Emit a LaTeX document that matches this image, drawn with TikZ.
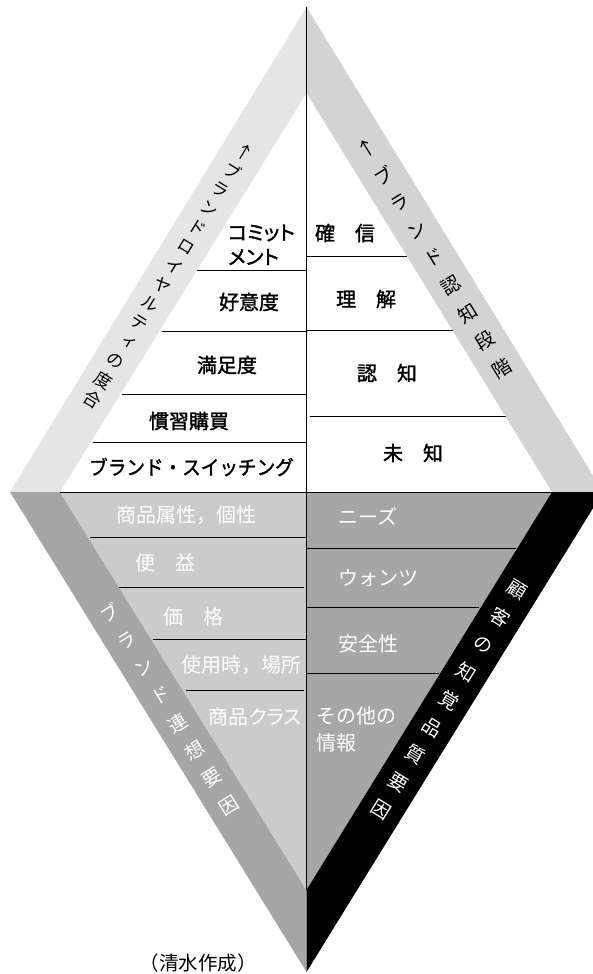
\documentclass[tikz,border=0pt]{standalone}
\usepackage{fontspec}
\newfontfamily\jp{Noto Sans CJK JP}
\newfontfamily\jpm[FakeBold=1.6]{Noto Sans CJK JP}
\newfontfamily\jpmp[FakeBold=1.6,RawFeature=+palt]{Noto Sans CJK JP}
\newfontfamily\jpp[RawFeature=+palt]{Noto Sans CJK JP}
\newfontfamily\jpv[RawFeature=+vert]{Noto Sans CJK JP}
\definecolor{bandUL}{HTML}{E5E5E5}
\definecolor{bandUR}{HTML}{D3D3D3}
\definecolor{bandLL}{HTML}{A6A6A6}
\definecolor{fillLL}{HTML}{CBCBCB}
\definecolor{fillLR}{HTML}{A6A6A6}
\begin{document}
\begin{tikzpicture}[x=1pt,y=-1pt,
  lbl/.style={inner sep=0pt, font=\jpm\fontsize{20}{24}\selectfont},
  lblp/.style={inner sep=0pt, font=\jpmp\fontsize{20}{24}\selectfont},
  wlbl/.style={inner sep=0pt, text=white, font=\jp\fontsize{20}{24}\selectfont},
  wlblp/.style={inner sep=0pt, text=white, font=\jpp\fontsize{20}{24}\selectfont},
  bandch/.style={inner sep=0pt, font=\jpv\fontsize{19}{22}\selectfont},
  smallbandch/.style={inner sep=0pt, font=\jpv\fontsize{17.5}{20}\selectfont},
  wbandch/.style={bandch, text=white},
  divider/.style={line width=1pt},
  capt/.style={inner sep=0pt, font=\jp\fontsize{19.5}{23}\selectfont}]
\useasboundingbox (0,0) rectangle (593,974);
\clip (0,0) rectangle (593,974);
% bands and fills
\fill[bandUL] (306.5,7) -- (10,492) -- (60,492) -- (306.5,93) -- cycle;
\fill[bandUR] (306.5,7) -- (603,492) -- (552,492) -- (306.5,93) -- cycle;
\fill[bandLL] (10,492) -- (306.5,972) -- (306.5,890) -- (60,492) -- cycle;
\fill[fillLL] (60,492) -- (306.5,890) -- (306.5,492) -- cycle;
\fill[fillLR] (306.5,492) -- (306.5,890) -- (552,492) -- cycle;
\fill[black] (552,492) -- (306.5,890) -- (306.5,972) -- (603,492) -- cycle;
% center line and dividers
\draw[divider] (306.5,7) -- (306.5,890);
\draw[divider] (60,492) -- (552,492);
\draw[divider] (197,270) -- (306.5,270);
\draw[divider] (162,331) -- (306.5,331);
\draw[divider] (122,394) -- (306.5,394);
\draw[divider] (93,442) -- (306.5,442);
\draw[divider] (306.5,256) -- (407,256);
\draw[divider] (306.5,330) -- (453,330);
\draw[divider] (309.5,416) -- (506,416);
\draw[divider] (90,537) -- (306.5,537);
\draw[divider] (119,587.5) -- (304,587.5);
\draw[divider] (153,639) -- (306.5,639);
\draw[divider] (186,690.5) -- (304,690.5);
\draw[divider] (306.5,548) -- (516,548);
\draw[divider] (306.5,607.5) -- (479,607.5);
\draw[divider] (306.5,673.5) -- (439,673.5);
% upper-left labels
\node[lblp, anchor=west] (ul1a) at (228,233) {コミット};
\node[lblp, anchor=west] (ul1b) at (228,257) {メント};
\node[lbl] (ul2) at (249,302) {好意度};
\node[lbl] (ul3) at (227,365) {満足度};
\node[lbl] (ul4) at (189,421) {慣習購買};
\node[lbl] (ul5) at (191.5,467) {\scalebox{0.93}[1]{ブランド・スイッチング}};
% upper-right labels
\node[lbl] (ur1) at (345,233) {確　信};
\node[lbl] (ur2) at (366,299) {理　解};
\node[lbl] (ur3) at (387,373) {認　知};
\node[lbl] (ur4) at (413,453) {未　知};
% lower-left labels
\node[wlbl] (ll1) at (186.5,515) {商品属性，個性};
\node[wlbl] (ll2) at (165,563) {便　益};
\node[wlbl] (ll3) at (193,617) {価　格};
\node[wlbl] (ll4) at (241,665) {使用時，場所};
\node[wlblp] (ll5) at (255,717) {商品クラス};
% lower-right labels
\node[wlbl, anchor=west] (lr1) at (338,516) {ニーズ};
\node[wlbl, anchor=west] (lr2) at (338,578) {ウォンツ};
\node[wlbl, anchor=west] (lr3) at (338,644) {安全性};
\node[wlbl, anchor=west] (lr4a) at (316,716) {その他の};
\node[wlbl, anchor=west] (lr4b) at (316,743) {情報};
% band texts
\foreach \c [count=\i from 0] in {↑,ブ,ラ,ン,ド,ロ,イ,ヤ,ル,テ,ィ,の,度,合}
  \node[smallbandch, rotate=-31.6] (bul\i) at (244-11.68*\i, 152+19.0*\i) {\c};
\foreach \c [count=\i from 0] in {↑,ブ,ラ,ン,ド,認,知,段,階}
  \node[bandch, rotate=31.6] (bur\i) at (366.5+16.9*\i, 148+27.5*\i) {\c};
\foreach \c [count=\i from 0] in {ブ,ラ,ン,ド,連,想,要,因}
  \node[wbandch, rotate=31.7] (bll\i) at (109.8+17.0*\i, 613+27.47*\i) {\c};
\foreach \c [count=\i from 0] in {顧,客,の,知,覚,品,質,要,因}
  \node[wbandch, rotate=-31.7] (blr\i) at (517-17.0*\i, 590+27.47*\i) {\c};
% caption
\node[capt] (cap) at (198,963) {（清水作成）};
\end{tikzpicture}
\end{document}
